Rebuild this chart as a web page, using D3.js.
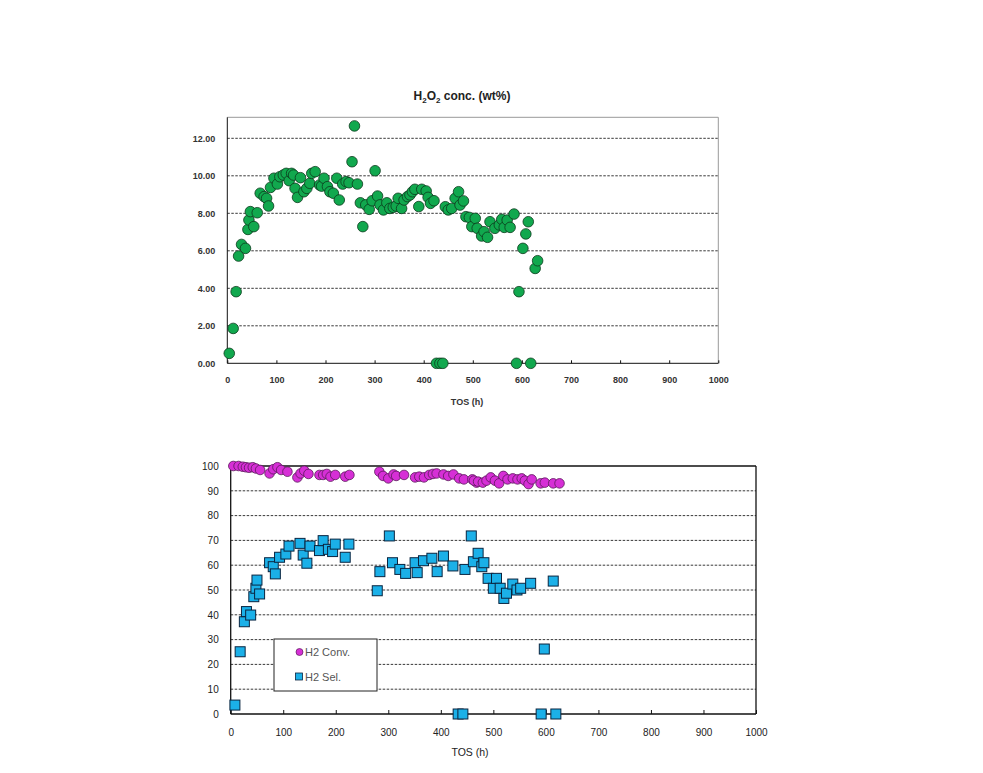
<!DOCTYPE html>
<html><head><meta charset="utf-8">
<script src="https://cdn.jsdelivr.net/npm/d3@7"></script>
<style>body{margin:0;background:#fff}svg{display:block}text{font-family:Arial,"Liberation Sans",sans-serif}</style>
</head><body>
<script>
// ---- Top chart data: H2O2 concentration (wt%) vs TOS (h)
const h2o2TOS = [4,12,18,23,29,37,42,44,47,54,61,67,75,80,84,88,95,102,107,114,120,126,131,135,138,143,149,156,162,168,172,179,188,192,197,204,209,216,223,228,235,242,248,254,259,265,271,276,282,289,295,301,306,311,318,325,331,338,344,348,355,360,367,372,377,382,390,396,405,409,414,421,426,433,439,444,450,457,464,471,474,481,486,493,498,505,509,518,523,530,535,545,554,559,564,570,576,584,589,594,602,608,613,618,627,632];
const h2o2Conc = [0.53,1.86,3.82,5.72,6.34,6.13,7.14,7.64,8.09,7.29,8.03,9.07,8.89,8.8,8.39,9.38,9.87,9.56,9.95,10.04,10.13,9.74,10.13,10.04,9.33,8.85,9.9,9.15,9.33,9.6,10.13,10.22,9.51,9.45,9.87,9.42,9.15,9.07,9.87,8.71,9.56,9.69,9.63,10.75,12.66,9.56,8.56,7.29,8.45,8.21,8.67,10.27,8.92,8.45,8.18,8.56,8.26,8.32,8.39,8.8,8.26,8.71,8.89,8.98,9.15,9.28,8.36,9.28,9.19,8.85,8.53,8.67,0,0,0,8.35,8.18,8.26,8.8,9.15,8.44,8.66,7.82,7.78,7.29,7.73,7.2,6.79,7.02,6.72,7.55,7.2,7.38,7.68,7.25,7.64,7.25,7.96,0,3.82,6.13,6.9,7.55,0,5.06,5.47];
const topYTicks = [0,2,4,6,8,10,12];
const xTicks = [0,100,200,300,400,500,600,700,800,900,1000];

// ---- Bottom chart data
const convTOS = [5,15,23,29,35,42,48,56,74,81,89,96,108,127,133,140,148,169,176,183,190,199,218,226,283,290,300,310,315,330,351,359,368,378,385,392,405,414,424,435,444,460,468,463,471,480,487,495,503,511,519,527,537,546,554,560,567,573,590,598,614,626];
const convVal = [100,100,99.7,99.5,99.3,99.5,99,98.4,97,98.7,99.5,98.4,97.7,95.4,97,98.1,96.8,96.4,96.4,96.8,95.7,96.4,95.7,96.4,97.7,96,95,96.6,96,96.4,95.4,95.7,95.4,96.4,96.8,97,96.6,96,96.6,95,94.6,94.6,93.3,94.1,93.7,93.3,94.1,95.4,94.1,93,96,94.6,95,94.6,95,94.1,92.7,94.6,93,93.3,93,93];
const selTOS = [8,18,26,30,38,44,48,50,55,74,81,85,93,105,111,132,138,145,151,169,176,186,194,199,218,225,279,284,302,308,322,333,351,355,367,383,393,405,423,433,442,446,458,462,471,478,482,490,500,506,513,520,525,537,545,552,571,591,597,614,619];
const selVal = [3.6,25.1,37.2,41.3,39.9,47.3,50.7,54,48.4,61,59.4,56.5,63.2,64.5,67.7,68.8,64.1,60.8,67.7,65.9,69.9,66.4,65.5,68.5,63.2,68.5,49.7,57.4,71.8,61,58.3,56.7,61,57,61.8,62.8,57.4,63.7,59.7,0,0,58.3,71.8,61.4,64.8,59.4,61,54.7,50.7,54.7,50.7,46.6,48.7,52.4,50,50.7,52.7,0,26.2,53.6,0];
const botYTicks = [0,10,20,30,40,50,60,70,80,90,100];
const legendLabels = ["H2 Conv.","H2 Sel."];

const W = 983, H = 773;
const svg = d3.select("body").append("svg").attr("width", W).attr("height", H);

// ================= TOP CHART =================
(function(){
  const L = 227.3, R = 718.3, T = 117.3, B = 363.3;
  const x = d3.scaleLinear().domain([0,1000]).range([L,R]);
  const y = d3.scaleLinear().domain([0,12]).range([B, B - 12*18.75]);
  const g = svg.append("g");
  g.selectAll("line.grid").data(topYTicks.filter(d=>d>0)).join("line")
    .attr("x1",L).attr("x2",R).attr("y1",d=>y(d)).attr("y2",d=>y(d))
    .attr("stroke","#222").attr("stroke-width",0.9).attr("stroke-dasharray","2.5,1.5");
  g.append("line").attr("x1",L).attr("x2",R).attr("y1",T).attr("y2",T).attr("stroke","#999");
  g.append("line").attr("x1",R).attr("x2",R).attr("y1",T).attr("y2",B).attr("stroke","#999");
  const ax = g.append("g").attr("transform",`translate(0,${B})`)
    .call(d3.axisBottom(x).tickValues(xTicks).tickFormat(d3.format("d")).tickSizeInner(-3).tickSizeOuter(0).tickPadding(13));
  const ay = g.append("g").attr("transform",`translate(${L},0)`)
    .call(d3.axisLeft(y).tickValues(topYTicks).tickFormat(d3.format(".2f")).tickSize(0).tickPadding(12));
  ay.select(".domain").attr("d",`M0,${T}V${B}`);
  ax.select(".domain").attr("d",`M${L},0H${R}`);
  [ax,ay].forEach(a=>{
    a.select(".domain").attr("stroke","#111").attr("stroke-width",1);
    a.selectAll(".tick line").attr("stroke","#111");
    a.selectAll("text").attr("font-size",9).attr("font-weight","bold").attr("fill","#333");
  });
  g.selectAll("circle.p").data(h2o2TOS.map((t,i)=>[t,h2o2Conc[i]])).join("circle")
    .attr("cx",d=>x(d[0])).attr("cy",d=>y(d[1])).attr("r",5.3)
    .attr("fill","#11a84e").attr("stroke","#0b3a1c").attr("stroke-width",0.8);
  const tt = svg.append("text").attr("x",462).attr("y",100).attr("text-anchor","middle")
    .attr("font-size",12).attr("font-weight","bold").attr("fill","#222");
  tt.append("tspan").text("H");
  tt.append("tspan").attr("font-size",8).attr("dy",3).text("2");
  tt.append("tspan").attr("dy",-3).text("O");
  tt.append("tspan").attr("font-size",8).attr("dy",3).text("2");
  tt.append("tspan").attr("dy",-3).text(" conc. (wt%)");
  svg.append("text").attr("x",467).attr("y",405).attr("text-anchor","middle")
    .attr("font-size",9).attr("font-weight","bold").attr("fill","#333").text("TOS (h)");
})();

// ================= BOTTOM CHART =================
(function(){
  const L = 230.7, R = 756, T = 466, B = 714;
  const x = d3.scaleLinear().domain([0,1000]).range([L,R]);
  const y = d3.scaleLinear().domain([0,100]).range([B,T]);
  const g = svg.append("g");
  g.selectAll("line.grid").data(botYTicks.filter(d=>d>0 && d<100)).join("line")
    .attr("x1",L).attr("x2",R).attr("y1",d=>y(d)).attr("y2",d=>y(d))
    .attr("stroke","#222").attr("stroke-width",0.9).attr("stroke-dasharray","2.5,1.5");
  g.append("line").attr("x1",L).attr("x2",R).attr("y1",T).attr("y2",T).attr("stroke","#111").attr("stroke-width",1.3);
  g.append("line").attr("x1",R).attr("x2",R).attr("y1",T).attr("y2",B).attr("stroke","#111").attr("stroke-width",1.3);
  const ax = g.append("g").attr("transform",`translate(0,${B})`)
    .call(d3.axisBottom(x).tickValues(xTicks).tickFormat(d3.format("d")).tickSizeInner(-4).tickSizeOuter(0).tickPadding(15));
  const ay = g.append("g").attr("transform",`translate(${L},0)`)
    .call(d3.axisLeft(y).tickValues(botYTicks).tickFormat(d3.format("d")).tickSize(0).tickPadding(12));
  [ax,ay].forEach(a=>{
    a.select(".domain").attr("stroke","#111").attr("stroke-width",1.3);
    a.selectAll(".tick line").attr("stroke","#111");
    a.selectAll("text").attr("font-size",10).attr("fill","#222");
  });
  ay.select(".domain").attr("d",`M0,${B}V${T}`);
  ax.select(".domain").attr("d",`M${L},0H${R}`);
  g.selectAll("circle.c").data(convTOS.map((t,i)=>[t,convVal[i]])).join("circle")
    .attr("cx",d=>x(d[0])).attr("cy",d=>y(d[1])).attr("r",4.8)
    .attr("fill","#d62fd6").attr("stroke","#5a1a5a").attr("stroke-width",0.8);
  const s = 10;
  g.selectAll("rect.s").data(selTOS.map((t,i)=>[t,selVal[i]])).join("rect")
    .attr("x",d=>x(d[0])-s/2).attr("y",d=>y(d[1])-s/2).attr("width",s).attr("height",s)
    .attr("fill","#1bb0e8").attr("stroke","#0a2540").attr("stroke-width",1);
  const lg = svg.append("g");
  lg.append("rect").attr("x",274).attr("y",639).attr("width",103).attr("height",52)
    .attr("fill","#fff").attr("stroke","#222").attr("stroke-width",1);
  lg.append("circle").attr("cx",299.5).attr("cy",652).attr("r",3.5)
    .attr("fill","#d62fd6").attr("stroke","#5a1a5a").attr("stroke-width",0.7);
  lg.append("rect").attr("x",295.5).attr("y",673).attr("width",7).attr("height",7)
    .attr("fill","#1bb0e8").attr("stroke","#0a2540").attr("stroke-width",0.8);
  lg.selectAll("text").data(legendLabels).join("text")
    .attr("x",305).attr("y",(d,i)=>656 + i*25).attr("font-size",11).attr("fill","#555").text(d=>d);
  svg.append("text").attr("x",470).attr("y",756).attr("text-anchor","middle")
    .attr("font-size",10.5).attr("fill","#222").text("TOS (h)");
})();
</script>
</body></html>
